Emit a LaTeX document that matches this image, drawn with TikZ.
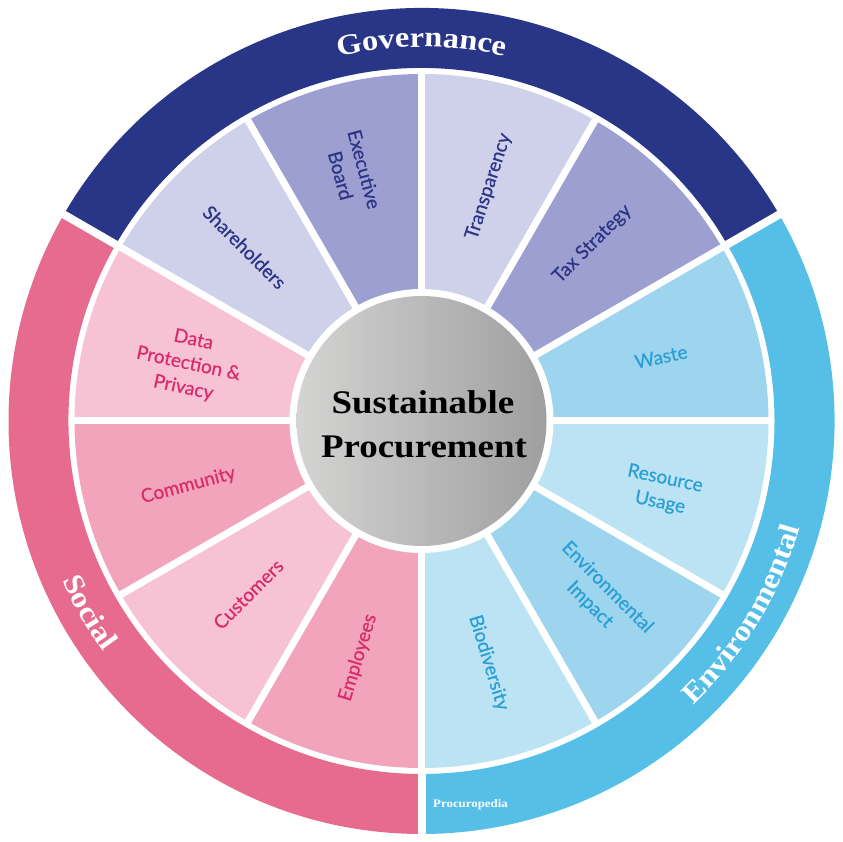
\documentclass[tikz,border=0pt]{standalone}
\usepackage{fontspec}
\newfontfamily\lblfamily{Lato}[FakeBold=0.5]
\newfontfamily\titlefamily{Liberation Serif}[FakeStretch=1.12]
\usetikzlibrary{decorations.text}
\definecolor{govband}{HTML}{293586}
\definecolor{socband}{HTML}{E76A8F}
\definecolor{envband}{HTML}{56BFE8}
\definecolor{govM}{HTML}{9C9FCF}
\definecolor{govL}{HTML}{CFD0EA}
\definecolor{socM}{HTML}{F1A4BC}
\definecolor{socL}{HTML}{F6C2D4}
\definecolor{envM}{HTML}{9DD5EE}
\definecolor{envL}{HTML}{BCE3F3}
\definecolor{govtext}{HTML}{2B3486}
\definecolor{soctext}{HTML}{D92A6B}
\definecolor{envtext}{HTML}{2A9FD6}
\definecolor{hubL}{HTML}{D4D4D3}
\definecolor{hubR}{HTML}{9F9F9F}
\newcommand\lblfont{\lblfamily\fontsize{19pt}{24.5pt}\selectfont}
\newcommand\bandfont{\titlefamily\fontsize{29pt}{29pt}\selectfont\bfseries}
\newcommand\hubfont{\titlefamily\fontsize{33pt}{36pt}\selectfont\bfseries}
\newcommand\procfont{\titlefamily\fontsize{11.5pt}{12pt}\selectfont\bfseries}
\begin{document}
\begin{tikzpicture}[x=1pt,y=1pt,
  lbl/.style={font=\lblfont, align=center, inner sep=0pt},
  govlbl/.style={lbl, text=govtext},
  soclbl/.style={lbl, text=soctext},
  envlbl/.style={lbl, text=envtext},
  gapline/.style={white, line width=7pt},
  bandtext/.style={decorate, decoration={text along path, text={|\bandfont|#1}, text align=center, text color=white}}]
\useasboundingbox (0,0) rectangle (843,841);
\begin{scope}[shift={(421.5,420)}]
  % outer bands
  \foreach \a/\b/\c in {30/150/govband,150/270/socband,270/390/envband}{
    \fill[\c] (\a:353pt) arc[start angle=\a, end angle=\b, radius=353pt]
      -- (\b:413pt) arc[start angle=\b, end angle=\a, radius=413pt] -- cycle;
  }
  \foreach \a in {30,150,270}{
    \draw[white, line width=8pt] (\a:340pt) -- (\a:420pt);
  }
  % segments
  \foreach \a/\c in {0/envM,30/govM,60/govL,90/govM,120/govL,150/socL,180/socM,210/socL,240/socM,270/envL,300/envM,330/envL}{
    \fill[\c] (\a:128pt) -- (\a:347pt) arc[start angle=\a, delta angle=30, radius=347pt]
      -- ({\a+30}:128pt) arc[start angle={\a+30}, delta angle=-30, radius=128pt] -- cycle;
  }
  \foreach \a in {0,30,...,330}{
    \draw[gapline] (\a:120pt) -- (\a:351pt);
  }
  \fill[white] (0,0) circle[radius=132pt];
  \node[circle, minimum size=250pt, inner sep=0pt, left color=hubL, right color=hubR] (hub) at (0,0) {};
  % band labels
  \path[bandtext=Governance] (150:374pt) arc[start angle=150, end angle=30, radius=374pt];
  \path[bandtext=Social] (165:393pt) arc[start angle=165, end angle=255, radius=393pt];
  \path[bandtext=Environmental] (-76:393pt) arc[start angle=-76, end angle=14, radius=393pt];
  % segment labels
  \node[envlbl, rotate=12]  (waste) at (15:248pt) {Waste};
  \node[govlbl, rotate=45]  (tax) at (46:246pt) {Tax Strategy};
  \node[govlbl, rotate=72]  (transp) at (74:244pt) {Transparency};
  \node[govlbl, rotate=-75] (exec) at (105.5:258pt) {Executive\\Board};
  \node[govlbl, rotate=-45] (share) at (135.5:248pt) {Shareholders};
  \node[soclbl, rotate=-12] (data) at (166.3:240pt) {Data\\Protection \&\\Privacy};
  \node[soclbl, rotate=15]  (comm) at (195.5:242pt) {Community};
  \node[soclbl, rotate=45]  (cust) at (225:245pt) {Customers};
  \node[soclbl, rotate=73]  (empl) at (255:245pt) {Employees};
  \node[envlbl, rotate=-73] (bio) at (285.5:251pt) {Biodiversity};
  \node[envlbl, rotate=-45] (envimp) at (315.3:249pt) {Environmental\\Impact};
  \node[envlbl, rotate=-12] (res) at (343.8:251pt) {Resource\\Usage};
\end{scope}
\node[font=\hubfont, anchor=base, inner sep=0pt] (sus) at (423,427) {Sustainable};
\node[font=\hubfont, anchor=base, inner sep=0pt] (proc) at (424,383) {Procurement};
\node[font=\procfont, text=white, anchor=base west, inner sep=0pt] (brand) at (433,34) {Procuropedia};
\end{tikzpicture}
\end{document}
